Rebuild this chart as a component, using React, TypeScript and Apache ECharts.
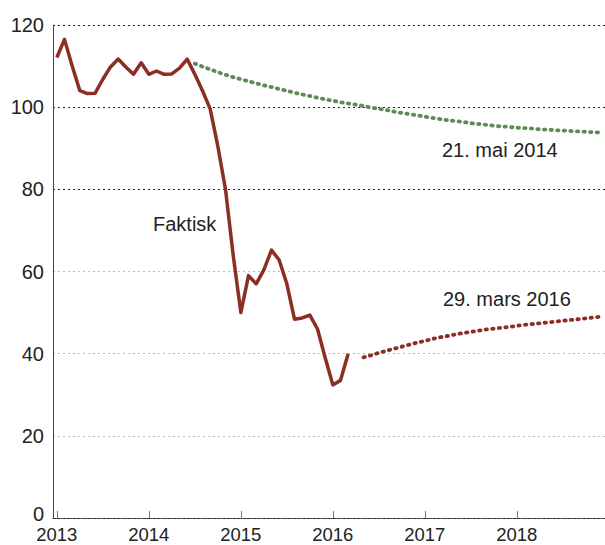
import React, { useEffect, useRef } from "react";
import * as echarts from "echarts";

const years = [2013, 2014, 2015, 2016, 2017, 2018];
const months = years.flatMap((y) =>
  Array.from({ length: 12 }, (_, m) => `${y}-${String(m + 1).padStart(2, "0")}`)
);

// Actual (Faktisk), Jan 2013 – Mar 2016
const actual = [
  112.1, 116.5, 110.0, 104.0, 103.3, 103.4, 106.8, 109.8, 111.7, 109.8, 108.0, 110.8,
  108.0, 108.8, 108.0, 108.1, 109.5, 111.7, 108.0, 104.0, 99.6, 90.5, 80.0, 64.0,
  50.0, 59.0, 57.0, 60.4, 65.2, 62.8, 57.0, 48.4, 48.7, 49.4, 46.0, 39.0,
  32.4, 33.5, 40.0,
];
const actualStart = 0;

// Forecast 21. mai 2014, Jul 2014 – Dec 2018
const fc2014 = [
  110.6, 109.9, 109.2, 108.5, 107.9, 107.3,
  106.8, 106.3, 105.8, 105.3, 104.9, 104.4, 104.0, 103.5, 103.1, 102.7, 102.3, 101.9,
  101.6, 101.2, 100.9, 100.6, 100.3, 99.9, 99.6, 99.3, 98.9, 98.6, 98.3, 98.0,
  97.7, 97.4, 97.1, 96.8, 96.6, 96.4, 96.1, 95.9, 95.7, 95.5, 95.3, 95.2,
  95.0, 94.9, 94.8, 94.6, 94.5, 94.4, 94.3, 94.2, 94.1, 94.0, 93.9, 93.8,
];
const fc2014Start = 18;

// Forecast 29. mars 2016, May 2016 – Dec 2018
const fc2016 = [
  39.1, 39.6, 40.2, 40.7, 41.2, 41.7, 42.2, 42.7,
  43.1, 43.6, 44.0, 44.3, 44.7, 45.0, 45.3, 45.6, 45.9, 46.1, 46.3, 46.5,
  46.8, 47.0, 47.2, 47.4, 47.6, 47.8, 48.0, 48.2, 48.4, 48.6, 48.8, 49.0,
];
const fc2016Start = 40;

const yTicks = [0, 20, 40, 60, 80, 100, 120];

const seriesNames = ["Faktisk", "21. mai 2014", "29. mars 2016"];

function pad(values: number[], start: number): (number | null)[] {
  const out: (number | null)[] = months.map(() => null);
  values.forEach((v, i) => {
    out[start + i] = v;
  });
  return out;
}

const FONT = "'Liberation Sans', Arial, sans-serif";
const RED = "#8b2e23";
const GREEN = "#5e8c55";

export default function App() {
  const ref = useRef<HTMLDivElement>(null);
  useEffect(() => {
    if (!ref.current) return;
    const chart = echarts.init(ref.current, undefined, { renderer: "svg" });
    const dotted = (color: string) => ({
      color,
      width: 3.8,
      type: [1.4, 5.2] as number[],
      cap: "round" as const,
    });
    chart.setOption({
      animation: false,
      backgroundColor: "#ffffff",
      grid: { left: 53, right: 0, top: 25, bottom: 27, outerBoundsMode: "none" },
      xAxis: {
        type: "category",
        data: months,
        boundaryGap: true,
        axisLine: { show: true, lineStyle: { color: "#333", width: 1, type: "dotted" } },
        axisTick: {
          show: true,
          inside: true,
          length: 7,
          alignWithLabel: true,
          interval: (i: number) => i % 12 === 0,
          lineStyle: { color: "#777", width: 1 },
        },
        axisLabel: {
          interval: (i: number) => i % 12 === 0,
          formatter: (v: string) => v.slice(0, 4),
          fontSize: 18.5,
          lineHeight: 14,
          color: "#222",
          fontFamily: FONT,
          margin: 9,
        },
        splitLine: { show: false },
      },
      yAxis: {
        type: "value",
        min: yTicks[0],
        max: yTicks[yTicks.length - 1],
        interval: 20,
        axisLine: { show: true, lineStyle: { color: "#444", width: 1 } },
        axisTick: { show: false },
        axisLabel: {
          fontSize: 20,
          lineHeight: 16,
          color: "#222",
          fontFamily: FONT,
          margin: 9,
          formatter: (v: number) => (v === 0 ? "{z|0}" : String(v)),
          rich: {
            z: {
              fontSize: 20,
              lineHeight: 14,
              color: "#222",
              fontFamily: FONT,
              padding: [0, 0, 9, 0],
            },
          },
        },
        splitLine: {
          show: true,
          lineStyle: {
            color: ["#222", "#bbb", "#bbb", "#bbb", "#222", "#222", "#222"],
            type: [2, 3],
            width: 1,
          },
        },
      },
      series: [
        {
          name: seriesNames[0],
          type: "line",
          data: pad(actual, actualStart),
          symbol: "none",
          lineStyle: { color: RED, width: 3.5, join: "round" },
          z: 5,
        },
        {
          name: seriesNames[1],
          type: "line",
          data: pad(fc2014, fc2014Start),
          symbol: "none",
          lineStyle: dotted(GREEN),
          z: 4,
        },
        {
          name: seriesNames[2],
          type: "line",
          data: pad(fc2016, fc2016Start),
          symbol: "none",
          lineStyle: dotted(RED),
          z: 4,
        },
      ],
      graphic: [
        {
          type: "text",
          left: 153,
          top: 214,
          style: { text: seriesNames[0], font: `20px ${FONT}`, fill: "#222" },
        },
        {
          type: "text",
          left: 442,
          top: 140,
          style: { text: seriesNames[1], font: `20px ${FONT}`, fill: "#222" },
        },
        {
          type: "text",
          left: 443,
          top: 289,
          style: { text: seriesNames[2], font: `20px ${FONT}`, fill: "#222" },
        },
      ],
    });
    return () => chart.dispose();
  }, []);
  return (
    <div
      ref={ref}
      style={{ position: "absolute", left: 0, top: 0, width: 605, height: 545 }}
    />
  );
}
